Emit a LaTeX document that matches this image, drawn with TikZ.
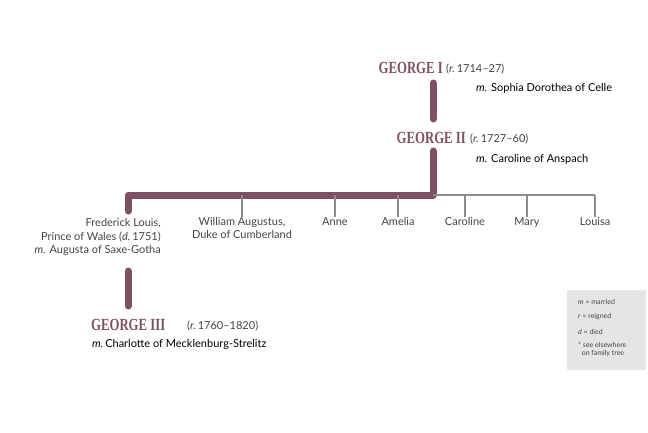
\documentclass[tikz,border=0pt]{standalone}
\usepackage{fontspec}
\setmainfont{Lato}
\newfontfamily\kingfont{Liberation Serif}
\definecolor{royal}{HTML}{7D5064}
\definecolor{branch}{HTML}{8C8C8C}
\definecolor{txt}{HTML}{444444}
\begin{document}
\begin{tikzpicture}[x=1pt,y=-1pt,
  king/.style={text=royal,font=\kingfont\bfseries\fontsize{17}{17}\selectfont,inner sep=0pt},
  reign/.style={text=txt,font=\fontsize{11}{11}\selectfont,inner sep=0pt},
  wife/.style={text=black,font=\fontsize{11}{11}\selectfont,inner sep=0pt},
  child/.style={text=txt,font=\fontsize{11}{13.5}\selectfont,inner sep=0pt,align=center},
  royalline/.style={draw=royal,line width=7pt,line cap=round,line join=round},
  royalcorner/.style={draw=royal,line width=7pt,line join=round},
  grayline/.style={draw=branch,line width=1.5pt},
  leg/.style={font=\fontsize{7}{8.5}\selectfont,text=txt,inner sep=0pt,anchor=west}]
\useasboundingbox (0,0) rectangle (648,432);
\node[king,anchor=east] (g1) at (443,68) {\scalebox{0.75}[1]{GEORGE I}};
\node[reign,anchor=west] (g1r) at (446,69) {(\textit{r.}\,1714–27)};
\node[wife,anchor=west] (g1w) at (476,88) {\textit{m.} Sophia Dorothea of Celle};
\node[king,anchor=east] (g2) at (466,138) {\scalebox{0.75}[1]{GEORGE II}};
\node[reign,anchor=west] (g2r) at (470,139) {(\textit{r.}\,1727–60)};
\node[wife,anchor=west] (g2w) at (476,159) {\textit{m.} Caroline of Anspach};
\coordinate (a1) at (433,83);
\coordinate (a2) at (433,119);
\draw[royalline] (a1) -- (a2);
\coordinate (b1) at (433,151);
\coordinate (bc) at (433,195);
\coordinate (fc) at (128,195);
\coordinate (f1) at (128,211);
\draw[royalline] (b1) -- (bc) -- (fc) -- (f1);
\node[child,anchor=north east] (fr) at (161,217) {\begin{tabular}{@{}r@{}}Frederick Louis,\\Prince of Wales (\textit{d.}\,1751)\\\textit{m.} Augusta of Saxe-Gotha\end{tabular}};
\node[child,anchor=north] (wa) at (242,217) {William Augustus,\\Duke of Cumberland};
\node[child,anchor=north] (an) at (335,217) {Anne};
\node[child,anchor=north] (am) at (398,217) {Amelia};
\node[child,anchor=north] (ca) at (465,217) {Caroline};
\node[child,anchor=north] (ma) at (527,217) {Mary};
\node[child,anchor=north] (lo) at (595,217) {Louisa};
\draw[grayline] (bc) -- (595,195);
\foreach \n/\x in {wa/242,an/335,am/398,ca/465,ma/527,lo/595}
  \draw[grayline] (\x,195) -- (\n.north);
\coordinate (c1) at (128,271);
\coordinate (c2) at (128,306);
\draw[royalline] (c1) -- (c2);
\node[king,anchor=west] (g3) at (91,325) {\scalebox{0.75}[1]{GEORGE III}};
\node[reign,anchor=west] (g3r) at (187,326) {(\textit{r.}\,1760–1820)};
\node[wife,anchor=west] (g3w) at (92,344) {\textit{m.}\,Charlotte of Mecklenburg-Strelitz};
\fill[gray!20] (567,290) rectangle (646,370);
\node[leg] (l1) at (578,302) {\textit{m} = married};
\node[leg] (l2) at (578,317) {\textit{r} = reigned};
\node[leg] (l3) at (578,332) {\textit{d} = died};
\node[leg,align=left,anchor=north west] (l4) at (578,342) {* see elsewhere\\\ \ on family tree};
\end{tikzpicture}
\end{document}
